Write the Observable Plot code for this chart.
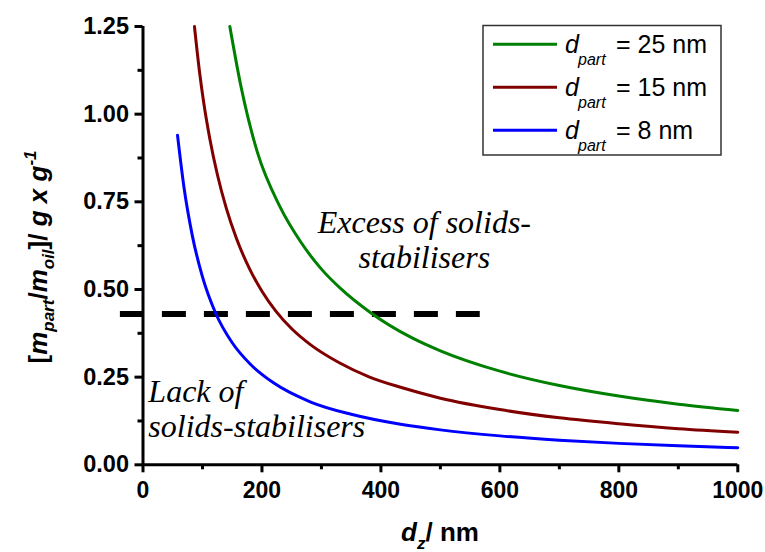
<!DOCTYPE html>
<html><head><meta charset="utf-8">
<script src="https://cdn.jsdelivr.net/npm/d3@7"></script>
<script src="https://cdn.jsdelivr.net/npm/@observablehq/plot@0.6"></script>
<style>body{margin:0;background:#fff}</style>
</head><body><div id="chart"></div>
<script>
// ---- data ----
const sizes = [25, 15, 8];                 // d_part in nm (legend order)
const colors = ["#008000", "#800000", "#0000ff"];

const greenX = [146, 164, 192, 230, 265, 300, 332, 385, 450, 500, 600, 700, 800, 900, 1000];
const greenY = [1.25, 1.085, 0.893, 0.737, 0.636, 0.558, 0.503, 0.431, 0.364, 0.325, 0.267, 0.226, 0.196, 0.173, 0.155];

const redX = [86.5, 95, 102, 112, 125, 140, 157, 180, 200, 223, 250, 282, 330, 380, 433, 500, 600, 700, 800, 900, 1000];
const redY = [1.25, 1.121, 1.034, 0.933, 0.828, 0.732, 0.646, 0.556, 0.495, 0.439, 0.388, 0.342, 0.291, 0.251, 0.221, 0.19, 0.1575, 0.134, 0.117, 0.103, 0.093];

const blueX = [58, 69, 83, 100, 122, 150, 181, 220, 282, 350, 433, 500, 600, 700, 800, 900, 1000];
const blueY = [0.94, 0.79, 0.653, 0.536, 0.433, 0.348, 0.286, 0.233, 0.179, 0.144, 0.1155, 0.0996, 0.0825, 0.0703, 0.0611, 0.0541, 0.0485];

const threshold = [{y: 0.43, x1: -38, x2: 567}];

const xTicks = [0, 200, 400, 600, 800, 1000];
const xMinor = [100, 300, 500, 700, 900];
const yTicks = [0, 0.25, 0.5, 0.75, 1.0, 1.25];
const yMinor = [0.125, 0.375, 0.625, 0.875, 1.125];

const annotations = [
  {lines: ["Excess of solids-", "stabilisers"], x: 473, y: 0.56, anchor: "middle"},
  {lines: ["Lack of", "solids-stabilisers"], x: 9, y: 0.0787, anchor: "start"}
];

// ---- build table ----
const seriesXY = [[greenX, greenY], [redX, redY], [blueX, blueY]];
const table = seriesXY.flatMap(([xs, ys], i) => xs.map((x, j) => ({x, y: ys[j], size: sizes[i]})));

const sans = "'Liberation Sans', Arial, sans-serif";
const serif = "'Liberation Serif', 'Times New Roman', serif";

const svg = Plot.plot({
  width: 765, height: 552,
  marginLeft: 142.5, marginRight: 27.7, marginTop: 26, marginBottom: 87.7,
  style: {fontFamily: sans, color: "black", background: "white", overflow: "visible"},
  x: {domain: [0, 1000]},
  y: {domain: [0, 1.25]},
  color: {domain: sizes, range: colors},
  marks: [
    Plot.ruleY(threshold, {y: "y", x1: "x1", x2: "x2", stroke: "black", strokeWidth: 6, strokeDasharray: "24,18"}),
    Plot.line(table, {x: "x", y: "y", z: "size", stroke: "size", strokeWidth: 3, curve: "monotone-x"}),
    ...annotations.map(a => Plot.text([a], {x: "x", y: "y", text: d => d.lines.join("\n"), textAnchor: a.anchor, lineAnchor: "bottom", lineHeight: 35/32, fontSize: 32, fontStyle: "italic", fontFamily: serif, fill: "black"})),
    Plot.axisX({ticks: xTicks, tickSize: 8, tickPadding: 9, strokeWidth: 3, fontSize: 23, fontWeight: "bold", label: null, tickFormat: d => String(d)}),
    Plot.axisX({ticks: xMinor, tickSize: 5, strokeWidth: 3, text: null, label: null}),
    Plot.axisY({ticks: yTicks, tickSize: 8, tickPadding: 6, strokeWidth: 3, fontSize: 23.5, fontWeight: "bold", label: null, tickFormat: d3.format(".2f")}),
    Plot.axisY({ticks: yMinor, tickSize: 5, strokeWidth: 3, text: null, label: null}),
    Plot.ruleX([0], {strokeWidth: 3}),
    Plot.ruleY([0], {strokeWidth: 3})
  ]
});
document.getElementById("chart").appendChild(svg);

const s = d3.select(svg);
// ---- x axis title ----
const xt = s.append("text").attr("x", 440).attr("y", 541).attr("text-anchor", "middle")
  .attr("font-family", sans).attr("font-size", 26).attr("font-weight", "bold").attr("fill", "black");
xt.append("tspan").attr("font-style", "italic").text("d");
xt.append("tspan").attr("font-style", "italic").attr("font-size", 17).attr("dy", 8).text("z");
xt.append("tspan").attr("dy", -8).text("/ nm");

// ---- y axis title ----
const yt = s.append("text").attr("transform", "translate(47,257) rotate(-90)").attr("text-anchor", "middle")
  .attr("font-family", sans).attr("font-size", 26).attr("font-weight", "bold").attr("fill", "black");
const parts = [
  ["[", "normal", 26, 0], ["m", "italic", 26, 0], ["part", "italic", 17, 7], ["/", "normal", 26, -7],
  ["m", "italic", 26, 0], ["oil", "italic", 17, 7], ["]/ ", "normal", 26, -7], ["g x g", "italic", 26, 0],
  ["-1", "italic", 17, -11], ["", "normal", 26, 11]
];
parts.forEach(([t, st, fs, dy]) => yt.append("tspan").attr("font-style", st).attr("font-size", fs).attr("dy", dy).text(t));

// ---- legend ----
const lg = s.append("g").attr("text-anchor", "start");
lg.append("rect").attr("x", 483).attr("y", 25.5).attr("width", 238).attr("height", 129.5)
  .attr("fill", "white").attr("stroke", "#333").attr("stroke-width", 1.5);
sizes.forEach((sz, i) => {
  const cy = 44.3 + i * 43;
  lg.append("line").attr("x1", 493).attr("x2", 557).attr("y1", cy).attr("y2", cy)
    .attr("stroke", colors[i]).attr("stroke-width", 3);
  const t = lg.append("text").attr("y", cy + 9).attr("text-anchor", "start").attr("font-family", sans).attr("font-size", 25).attr("fill", "black");
  t.append("tspan").attr("x", 565).attr("font-style", "italic").text("d");
  t.append("tspan").attr("x", 578).attr("dy", 12).attr("font-style", "italic").attr("font-size", 16).text("part");
  t.append("tspan").attr("x", 616).attr("dy", -12).text(`= ${sz} nm`);
});
</script>
</body></html>
